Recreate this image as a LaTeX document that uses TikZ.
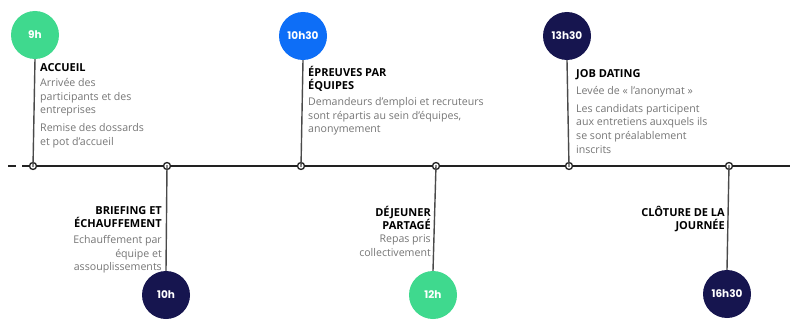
\documentclass[tikz,border=0pt]{standalone}
\usepackage{fontspec}
\setmainfont{Open Sans}
\newfontfamily\timefont{Poppins}
\definecolor{tgreen}{HTML}{3FD98E}
\definecolor{tblue}{HTML}{0D6EF7}
\definecolor{tnavy}{HTML}{16154F}
\definecolor{tgray}{HTML}{767676}
\definecolor{tline}{HTML}{222222}
\definecolor{tstem}{HTML}{4A4A4A}
\begin{document}
\begin{tikzpicture}[x=1pt,y=-1pt,
  timecircle/.style={circle,minimum size=48pt,inner sep=0pt,text=white,font=\timefont\bfseries\fontsize{10.5}{11}\selectfont},
  tdot/.style={circle,minimum size=7pt,inner sep=0pt,fill=white,draw=tline,line width=1.3pt},
  stem/.style={draw=tstem,line width=1.4pt},
  ttitle/.style={inner sep=0pt,text=black,font=\bfseries\fontsize{11}{13}\selectfont},
  tdesc/.style={inner sep=0pt,text=tgray,font=\fontsize{10.6}{13.8}\selectfont},
]
\useasboundingbox (0,0) rectangle (790,329);
\fill[white] (0,0) rectangle (790,329);
% timeline
\coordinate (dashA) at (8,166);
\coordinate (dashB) at (16,166);
\coordinate (tlA) at (22,166);
\coordinate (tlB) at (790,166);
\draw[tline,line width=2.6pt] (dashA) -- (dashB);
\draw[tline,line width=2.6pt] (tlA) -- (tlB);
% dots
\node[tdot] (d1) at (33,166) {};
\node[tdot] (d2) at (167,166) {};
\node[tdot] (d3) at (301,166) {};
\node[tdot] (d4) at (436,166) {};
\node[tdot] (d5) at (569,166) {};
\node[tdot] (d6) at (729,166) {};
% time circles
\node[timecircle,fill=tgreen] (c1) at (35,35) {9h};
\node[timecircle,fill=tblue] (c3) at (303,36) {10h30};
\node[timecircle,fill=tnavy] (c5) at (567,36) {13h30};
\node[timecircle,fill=tnavy] (c2) at (166,295) {10h};
\node[timecircle,fill=tgreen] (c4) at (433,295) {12h};
\node[timecircle,fill=tnavy] (c6) at (727,294) {16h30};
% stems
\draw[stem] (c1.south) -- ([yshift=-5pt]d1.north);
\draw[stem] (c3.south) -- ([yshift=-5pt]d3.north);
\draw[stem] (c5.south) -- ([yshift=-5pt]d5.north);
\draw[stem] ([yshift=5pt]d2.south) -- (c2.north);
\draw[stem] ([yshift=5pt]d4.south) -- (c4.north);
\draw[stem] ([yshift=5pt]d6.south) -- (c6.north);
% texts top
\node[ttitle,anchor=north west,align=left] (t1) at (40,63) {ACCUEIL};
\node[tdesc,anchor=north west,align=left] (t1a) at (40,78) {Arrivée des\\participants et des\\entreprises\\[4pt]Remise des dossards\\et pot d'accueil};
\node[ttitle,anchor=north west,align=left] (t3) at (308,66) {ÉPREUVES PAR\\ÉQUIPES};
\node[tdesc,anchor=north west,align=left] (t3a) at (308,97) {Demandeurs d'emploi et recruteurs\\sont répartis au sein d'équipes,\\anonymement};
\node[ttitle,anchor=north west,align=left] (t5) at (576,69) {JOB DATING};
\node[tdesc,anchor=north west,align=left] (t5a) at (576,86) {Levée de « l'anonymat »\\[4pt]Les candidats participent\\aux entretiens auxquels ils\\se sont préalablement\\inscrits};
% texts bottom
\node[ttitle,anchor=north east,align=right] (t2) at (162,206) {BRIEFING ET\\ÉCHAUFFEMENT};
\node[tdesc,anchor=north east,align=right] (t2a) at (162,235) {Echauffement par\\équipe et\\assouplissements};
\node[ttitle,anchor=north east,align=right] (t4) at (431,206) {DÉJEUNER\\PARTAGÉ};
\node[tdesc,anchor=north east,align=right] (t4a) at (431,235) {Repas pris\\collectivement};
\node[ttitle,anchor=north east,align=right] (t6) at (725,206) {CLÔTURE DE LA\\JOURNÉE};
\end{tikzpicture}
\end{document}
